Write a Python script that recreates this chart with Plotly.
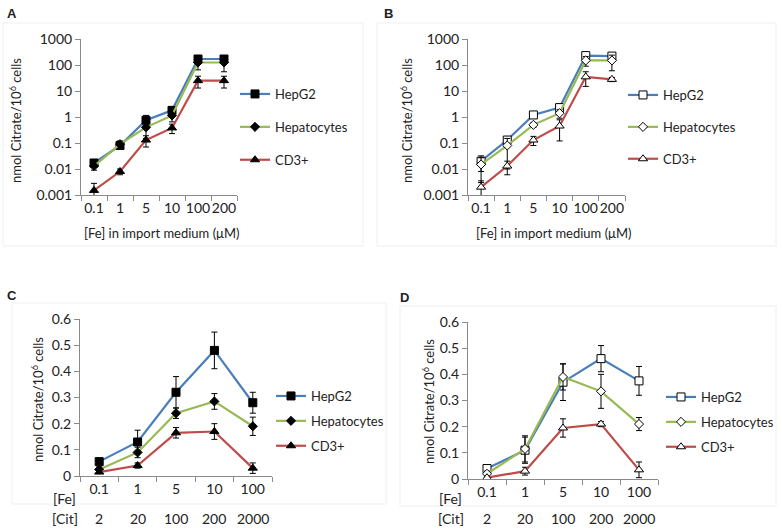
import plotly.graph_objects as go

# ---------------- data ----------------
fe_labels_AB = ["0.1", "1", "5", "10", "100", "200"]
fe_labels_CD = ["0.1", "1", "5", "10", "100"]
cit_labels_CD = ["2", "20", "100", "200", "2000"]
series_names = ["HepG2", "Hepatocytes", "CD3+"]

# Panel A (log scale)
A_hepg2 = [0.017, 0.08, 0.75, 1.8, 170, 170]
A_hep = [0.013, 0.09, 0.40, 1.15, 125, 125]
A_cd3 = [0.0015, 0.008, 0.13, 0.38, 25, 25]
A_hepg2_err = [0.005, 0.02, 0.4, 0.6, 50, 50]
A_hep_err = [0.004, 0.03, 0.25, 0.5, 60, 70]
A_cd3_err = [0.0013, 0.002, 0.06, 0.15, 12, 12]

# Panel B (log scale)
B_hepg2 = [0.02, 0.13, 1.2, 2.3, 230, 220]
B_hep = [0.015, 0.08, 0.5, 1.4, 150, 150]
B_cd3 = [0.002, 0.013, 0.13, 0.45, 35, 28]
B_hepg2_err = [0.012, 0.04, 0.2, 0.6, 60, 50]
B_hep_err = [0.012, 0.07, 0.1, 0.5, 60, 90]
B_cd3_err = [0.0015, 0.007, 0.05, 0.33, 20, 5]

# Panel C (linear)
C_hepg2 = [0.055, 0.13, 0.32, 0.48, 0.28]
C_hep = [0.025, 0.09, 0.24, 0.285, 0.19]
C_cd3 = [0.015, 0.04, 0.165, 0.17, 0.03]
C_hepg2_err = [0.01, 0.045, 0.06, 0.07, 0.04]
C_hep_err = [0.01, 0.02, 0.02, 0.03, 0.035]
C_cd3_err = [0.005, 0.01, 0.02, 0.03, 0.02]

# Panel D (linear)
D_hepg2 = [0.04, 0.11, 0.37, 0.46, 0.375]
D_hep = [0.02, 0.115, 0.39, 0.335, 0.21]
D_cd3 = [0.005, 0.03, 0.195, 0.21, 0.035]
D_hepg2_err = [0.012, 0.05, 0.07, 0.05, 0.055]
D_hep_err = [0.01, 0.05, 0.05, 0.065, 0.025]
D_cd3_err = [0.005, 0.015, 0.035, 0.01, 0.03]

log_tickvals = [0.001, 0.01, 0.1, 1, 10, 100, 1000]
log_ticktext = ["0.001", "0.01", "0.1", "1", "10", "100", "1000"]
lin_tickvals = [0, 0.1, 0.2, 0.3, 0.4, 0.5, 0.6]
lin_ticktext = ["0", "0.1", "0.2", "0.3", "0.4", "0.5", "0.6"]

# ---------------- style ----------------
W, H = 782, 532
FONT = "Lato"
colors = ["#4A7EBB", "#98B954", "#BE4B48"]
symbols = ["square", "diamond", "triangle-up"]
sizes = [8, 7, 8]
AXC = "#8a8a8a"


def px(x):
    return x / W


def py(y):
    return 1 - y / H


fig = go.Figure()

panels = [
    ("x", "y", "legend", fe_labels_AB, [A_hepg2, A_hep, A_cd3], [A_hepg2_err, A_hep_err, A_cd3_err], True),
    ("x2", "y2", "legend2", fe_labels_AB, [B_hepg2, B_hep, B_cd3], [B_hepg2_err, B_hep_err, B_cd3_err], False),
    ("x3", "y3", "legend3", fe_labels_CD, [C_hepg2, C_hep, C_cd3], [C_hepg2_err, C_hep_err, C_cd3_err], True),
    ("x4", "y4", "legend4", fe_labels_CD, [D_hepg2, D_hep, D_cd3], [D_hepg2_err, D_hep_err, D_cd3_err], False),
]

for xa, ya, leg, cats, vals, errs, filled in panels:
    for i in range(3):
        fig.add_trace(go.Scatter(
            x=cats, y=vals[i], xaxis=xa, yaxis=ya,
            name=series_names[i], legend=leg, legendgroup=leg + str(i),
            mode="lines+markers",
            line=dict(color=colors[i], width=2.2),
            marker=dict(symbol=symbols[i], size=sizes[i],
                        color="black" if filled else "white",
                        line=dict(color="black", width=1)),
            error_y=dict(type="data", array=errs[i], visible=True,
                         color="black", thickness=1, width=3),
        ))

xcommon = dict(type="category", tickson="boundaries", ticks="outside", ticklen=5,
               tickcolor=AXC, showline=True, linecolor=AXC, linewidth=1,
               showgrid=False, zeroline=False, fixedrange=True, tickangle=0,
               automargin=False,
               tickfont=dict(family=FONT, size=14, color="#222"))
ycommon = dict(ticks="outside", ticklen=5, tickcolor=AXC, showline=True,
               linecolor=AXC, linewidth=1, showgrid=False, zeroline=False,
               automargin=False,
               tickfont=dict(family=FONT, size=14, color="#222"))

fig.update_layout(
    width=W, height=H, autosize=False,
    margin=dict(l=0, r=0, t=0, b=0),
    paper_bgcolor="white", plot_bgcolor="white",
    font=dict(family=FONT, color="#222"),
    xaxis=dict(domain=[px(81), px(237)], anchor="y", range=[-0.5, 5.5], **xcommon),
    yaxis=dict(domain=[py(195), py(39)], anchor="x", type="log", range=[-3, 3],
               tickvals=log_tickvals, ticktext=log_ticktext, **ycommon),
    xaxis2=dict(domain=[px(468), px(625)], anchor="y2", range=[-0.5, 5.5], **xcommon),
    yaxis2=dict(domain=[py(195), py(39)], anchor="x2", type="log", range=[-3, 3],
                tickvals=log_tickvals, ticktext=log_ticktext, **ycommon),
    xaxis3=dict(domain=[px(80), px(272)], anchor="y3", range=[-0.5, 4.5], **xcommon),
    yaxis3=dict(domain=[py(476), py(319)], anchor="x3", range=[0, 0.6],
                tickvals=lin_tickvals, ticktext=lin_ticktext, **ycommon),
    xaxis4=dict(domain=[px(468), px(658)], anchor="y4", range=[-0.5, 4.5], **xcommon),
    yaxis4=dict(domain=[py(479), py(322)], anchor="x4", range=[0, 0.6],
                tickvals=lin_tickvals, ticktext=lin_ticktext, **ycommon),
    showlegend=True,
)

legcommon = dict(bgcolor="rgba(0,0,0,0)", font=dict(family=FONT, size=13, color="#222"),
                 traceorder="grouped", xanchor="left", yanchor="top", itemwidth=30)
fig.update_layout(
    legend=dict(x=px(235), y=py(79), tracegroupgap=13, **legcommon),
    legend2=dict(x=px(623), y=py(80), tracegroupgap=12, **legcommon),
    legend3=dict(x=px(271), y=py(381), tracegroupgap=5, **legcommon),
    legend4=dict(x=px(661), y=py(382), tracegroupgap=5, **legcommon),
)

ann = []
ytitle = "nmol Citrate/10<sup>6</sup> cells"
for x, y in [(15, 121), (406, 121), (37, 400), (428, 402)]:
    ann.append(dict(x=px(x), y=py(y), xref="paper", yref="paper", text=ytitle,
                    textangle=-90, showarrow=False, font=dict(family=FONT, size=13, color="#222"),
                    xanchor="center", yanchor="middle"))
for x in [161, 553]:
    ann.append(dict(x=px(x), y=py(233), xref="paper", yref="paper",
                    text="[Fe] in import medium (\u03bcM)", showarrow=False,
                    font=dict(family=FONT, size=13, color="#222"),
                    xanchor="center", yanchor="middle"))
for letter, x, y in [("A", 12, 14), ("B", 388, 13), ("C", 12, 295), ("D", 404, 297)]:
    ann.append(dict(x=px(x), y=py(y), xref="paper", yref="paper", text="<b>" + letter + "</b>",
                    showarrow=False, font=dict(family="Liberation Sans", size=13, color="#222"),
                    xanchor="center", yanchor="middle"))
for xl, xa in [(78, "x3"), (464, "x4")]:
    ann.append(dict(x=px(xl), y=py(498), xref="paper", yref="paper", text="[Fe]",
                    showarrow=False, font=dict(family=FONT, size=14, color="#222"),
                    xanchor="right", yanchor="middle"))
    ann.append(dict(x=px(xl + 2), y=py(518), xref="paper", yref="paper", text="[Cit]",
                    showarrow=False, font=dict(family=FONT, size=14, color="#222"),
                    xanchor="right", yanchor="middle"))
    for idx, cl in enumerate(cit_labels_CD):
        ann.append(dict(x=idx, y=py(518), xref=xa, yref="paper", text=cl,
                        showarrow=False, font=dict(family=FONT, size=14, color="#222"),
                        xanchor="center", yanchor="middle"))
fig.update_layout(annotations=ann)

shapes = []
for x0, y0, x1, y1 in [(3, 23, 363, 246), (377, 23, 776, 246), (12, 303, 386, 504), (400, 306, 776, 506)]:
    shapes.append(dict(type="rect", xref="paper", yref="paper",
                       x0=px(x0), y0=py(y1), x1=px(x1), y1=py(y0),
                       line=dict(color="#efefef", width=1), fillcolor="rgba(0,0,0,0)", layer="below"))
fig.update_layout(shapes=shapes)

fig.write_html("out.html", config={"displayModeBar": False},
               post_script="document.body.style.margin='0px';document.body.style.overflow='hidden';")
